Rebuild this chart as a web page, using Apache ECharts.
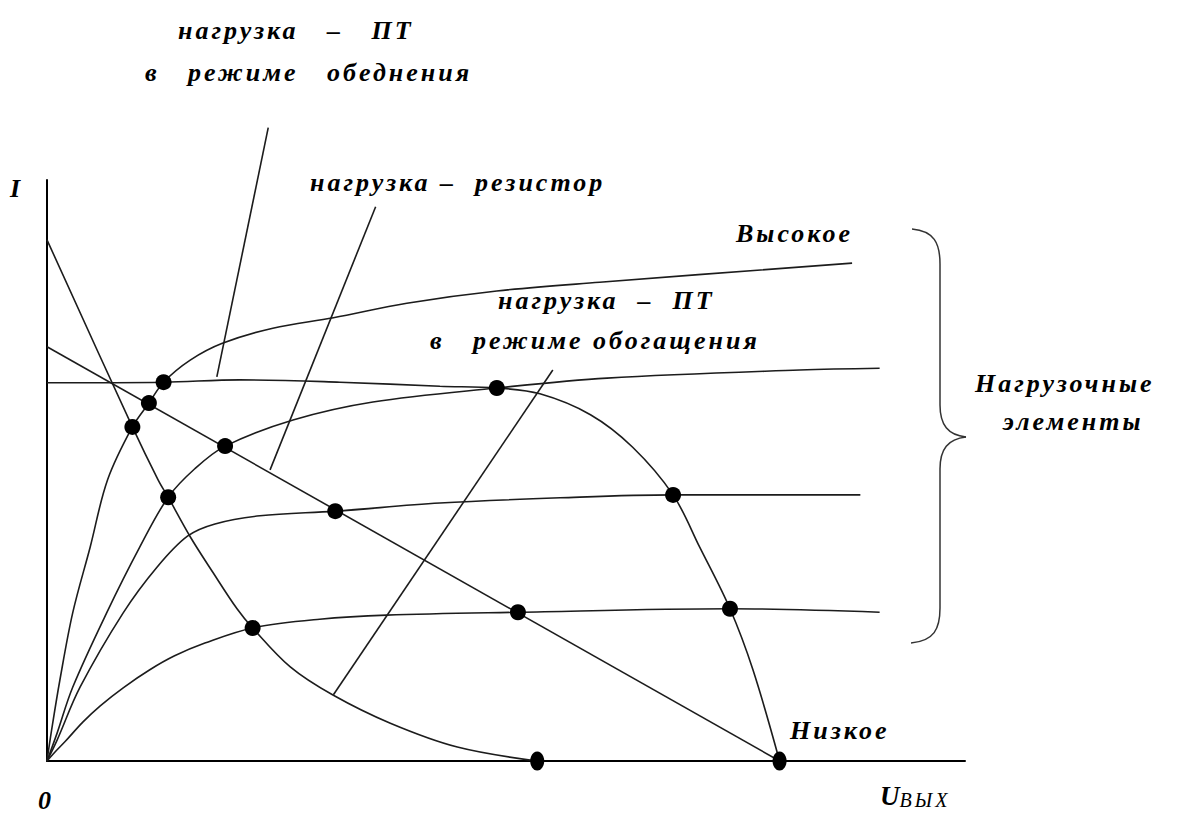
<!DOCTYPE html>
<html>
<head>
<meta charset="utf-8">
<script src="https://cdn.jsdelivr.net/npm/echarts@6/dist/echarts.min.js"></script>
<style>
  html, body { margin: 0; padding: 0; background: #fff; }
  #chart { width: 1184px; height: 815px; }
  #chart svg text { letter-spacing: 3px; white-space: pre; }
</style>
</head>
<body>
<div id="chart"></div>
<script>
// Output characteristics of the switching transistor, I(U) for four gate voltages
const curveHigh = [[0,0],[0.05,0.53],[0.14,1.39],[0.28,2.55],[0.47,3.68],[0.66,4.84],[0.93,5.75],[1.11,6.16],[1.27,6.52],[1.56,6.90],[1.91,7.19],[2.46,7.45],[3.12,7.63],[3.92,7.88],[4.90,8.09],[6.02,8.24],[8.77,8.57]];
const curve2 = [[0,0],[0.11,0.48],[0.28,1.27],[0.65,2.55],[1.01,3.68],[1.32,4.54],[1.61,5.03],[1.94,5.42],[2.68,5.87],[3.55,6.18],[4.90,6.42],[6.10,6.59],[8.20,6.73],[9.07,6.76]];
const curve3 = [[0,0],[0.11,0.36],[0.36,1.27],[0.83,2.55],[1.20,3.34],[1.53,3.87],[1.83,4.08],[2.32,4.22],[3.14,4.30],[4.28,4.44],[5.59,4.53],[6.82,4.58],[8.86,4.58]];
const curveLow = [[0,0],[0.09,0.16],[0.20,0.34],[0.39,0.67],[0.58,0.95],[0.83,1.26],[1.12,1.57],[1.39,1.81],[1.72,2.03],[2.24,2.29],[2.97,2.44],[3.70,2.51],[5.13,2.56],[7.44,2.62],[9.07,2.56]];

// Load characteristics
const loadResistor = [[0,7.13],[7.98,0]];
const loadDepletion = [[0,6.51],[1.27,6.52],[2.10,6.56],[3.19,6.52],[4.28,6.45],[4.90,6.42],[5.37,6.32],[5.92,5.96],[6.38,5.40],[6.82,4.58],[7.11,3.68],[7.44,2.62],[7.69,1.57],[7.98,0]];
const loadEnhancement = [[0,8.97],[0.93,5.75],[1.21,4.84],[1.32,4.54],[1.56,3.86],[1.81,3.24],[2.07,2.62],[2.24,2.29],[2.65,1.62],[3.11,1.14],[3.74,0.65],[4.47,0.24],[5.34,0]];

// Operating points where a transistor curve meets a load line
const operatingPoints = [[0.93,5.75],[1.11,6.16],[1.27,6.52],[1.32,4.54],[1.94,5.42],[4.90,6.42],[3.14,4.30],[6.82,4.58],[2.24,2.29],[5.13,2.56],[7.44,2.62],[5.34,0],[7.98,0]];

// Leader lines from the captions to the load lines
const leaderDepletion = [[2.41,10.90],[1.85,6.61]];
const leaderResistor = [[3.58,9.54],[2.43,5.01]];
const leaderEnhancement = [[5.51,6.73],[3.12,1.14]];

const INK = '#1c1c1c';
const FONT = 'bold italic 26px "Liberation Serif", "DejaVu Serif", serif';

function curve(data, smooth) {
  return {
    type: 'line', data: data, smooth: smooth, symbol: 'none', clip: false,
    lineStyle: { color: INK, width: 1.6 }, silent: true
  };
}
function caption(text, x, y) {
  return {
    type: 'text', x: x, y: y, silent: true,
    style: { text: text, font: FONT, fill: '#000', textAlign: 'left', textVerticalAlign: 'middle' }
  };
}
function braceCurve(x1, y1, c1x, c1y, c2x, c2y, x2, y2) {
  return {
    type: 'bezierCurve', silent: true,
    shape: { x1: x1, y1: y1, cpx1: c1x, cpy1: c1y, cpx2: c2x, cpy2: c2y, x2: x2, y2: y2 },
    style: { fill: 'none', stroke: '#333', lineWidth: 1.5 }
  };
}
function braceLine(x1, y1, x2, y2) {
  return {
    type: 'line', silent: true,
    shape: { x1: x1, y1: y1, x2: x2, y2: y2 },
    style: { stroke: '#333', lineWidth: 1.5 }
  };
}

// points lying on the U axis are drawn slightly taller, as on the original sketch
const pointItems = operatingPoints.map(function (p) {
  return p[1] === 0 ? { value: p, symbolSize: [14, 19] } : p;
});

const chart = echarts.init(document.getElementById('chart'), null, { renderer: 'svg' });
chart.setOption({
  animation: false,
  backgroundColor: '#fff',
  grid: { left: 47, top: 180, width: 918, height: 581 },
  xAxis: {
    type: 'value', min: 0, max: 10,
    axisLine: { show: true, onZero: false, lineStyle: { color: '#000', width: 2 } },
    axisTick: { show: false }, axisLabel: { show: false }, splitLine: { show: false }
  },
  yAxis: {
    type: 'value', min: 0, max: 10,
    axisLine: { show: true, onZero: false, lineStyle: { color: '#000', width: 2 } },
    axisTick: { show: false }, axisLabel: { show: false }, splitLine: { show: false }
  },
  series: [
    curve(curveHigh, 0.35),
    curve(curve2, 0.35),
    curve(curve3, 0.35),
    curve(curveLow, 0.35),
    curve(loadResistor, false),
    curve(loadDepletion, 0.35),
    curve(loadEnhancement, 0.35),
    curve(leaderDepletion, false),
    curve(leaderResistor, false),
    curve(leaderEnhancement, false),
    {
      type: 'scatter', data: pointItems, symbol: 'circle', symbolSize: 16,
      itemStyle: { color: '#000', opacity: 1 }, clip: false, silent: true, z: 5
    }
  ],
  graphic: [
    caption('нагрузка   –   ПТ', 178, 30),
    caption('в   режиме   обеднения', 145, 72),
    caption('нагрузка –  резистор', 310, 182),
    caption('Высокое', 736, 233),
    caption('нагрузка  –  ПТ', 498, 300),
    caption('в   режиме обогащения', 430, 340),
    caption('Нагрузочные', 975, 383),
    caption('элементы', 1003, 421),
    caption('Низкое', 790, 730),
    caption('I', 10, 188),
    caption('0', 38, 800),
    {
      type: 'text', x: 880, y: 796, silent: true,
      style: {
        text: '{u|U}{s|ВЫХ}',
        textAlign: 'left', textVerticalAlign: 'middle',
        rich: {
          u: { font: 'bold italic 27px "Liberation Serif", serif', fill: '#000', verticalAlign: 'middle' },
          s: { font: 'italic 20px "Liberation Serif", serif', fill: '#000', verticalAlign: 'bottom' }
        }
      }
    },
    braceCurve(912, 229, 934, 231, 940, 243, 940, 264),
    braceLine(940, 264, 940, 405),
    braceCurve(940, 405, 940, 425, 948, 435, 966, 437),
    braceCurve(966, 437, 948, 439, 940, 449, 940, 469),
    braceLine(940, 469, 940, 608),
    braceCurve(940, 608, 940, 629, 934, 641, 911, 643)
  ]
});
</script>
</body>
</html>
